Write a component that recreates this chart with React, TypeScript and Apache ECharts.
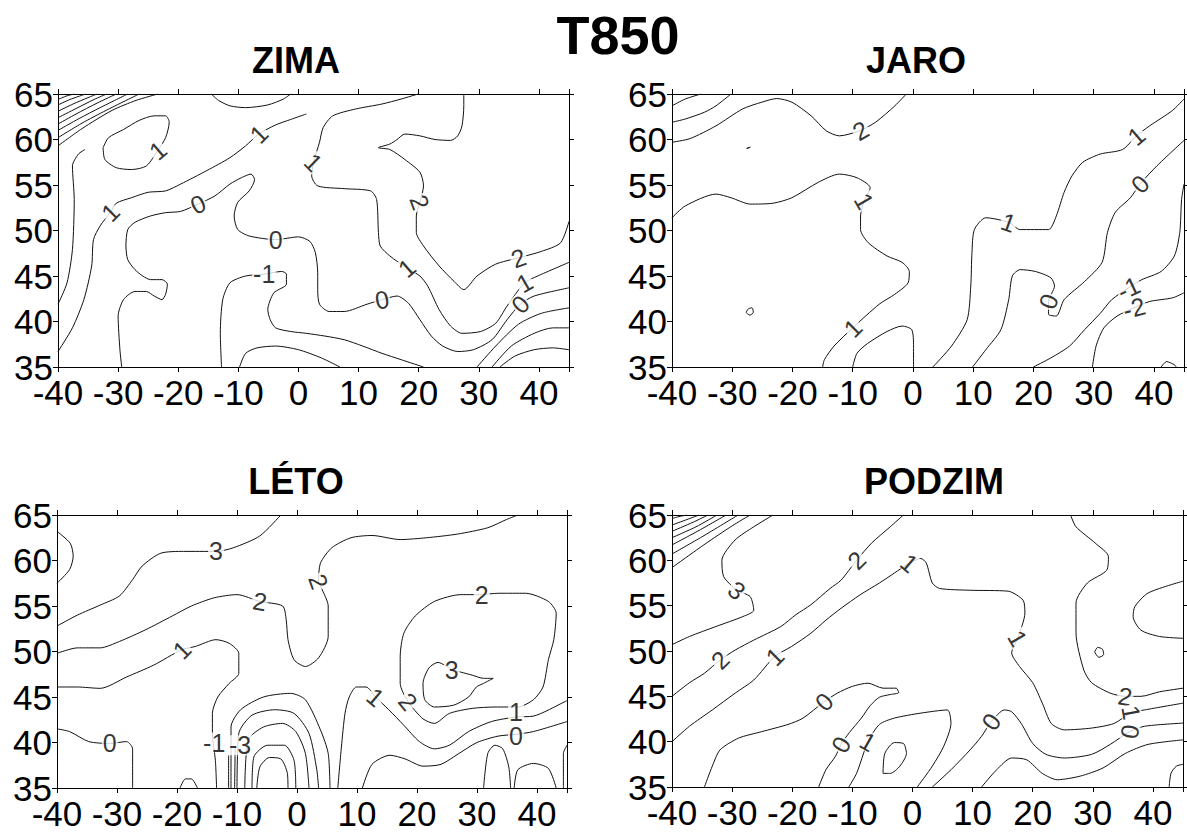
import React, { useEffect, useRef } from "react";
import * as echarts from "echarts";

type Pt = [number, number];
type Lbl = [number, number, string];

const mainTitle = "T850";
const panelTitles = ["ZIMA", "JARO", "LÉTO", "PODZIM"];
const lonTicks = [-40, -30, -20, -10, 0, 10, 20, 30, 40];
const latTicks = [35, 40, 45, 50, 55, 60, 65];

// ---------------- ZIMA ----------------
const zimaLines: Pt[][] = [
  [[-40, 64.4], [-38.5, 64.8], [-37.3, 65]],
  [[-40, 63.8], [-38, 64.4], [-35.4, 65]],
  [[-40, 63.1], [-37.5, 63.9], [-35, 64.6], [-33.5, 65]],
  [[-40, 62.4], [-37, 63.4], [-34, 64.4], [-31.9, 65]],
  [[-40, 61.7], [-37, 62.8], [-33.5, 64], [-30.3, 65]],
  [[-40, 61.0], [-36.5, 62.3], [-33, 63.5], [-28.4, 65]],
  [[-40, 60.2], [-36, 61.8], [-32, 63.2], [-26.5, 65]],
  [[-40, 59.3], [-36, 61.2], [-31, 63.2], [-27, 64.3], [-23.4, 65]],
  [[-40, 41.9], [-38.5, 44.25], [-37.6, 47.9], [-37.3, 53.4], [-37.6, 57.1], [-36.6, 58.4], [-35.5, 58.9]],
  [[-40, 36.7], [-37.6, 39.3], [-35.7, 42.4], [-34.4, 46.1], [-34.1, 49.0], [-33.0, 50.5], [-31.3, 52.0], [-30.3, 53.0], [-27.8, 53.6], [-25.0, 54.2], [-22.1, 54.35], [-19.6, 55.1], [-15.2, 56.6], [-11.4, 58.0], [-8.8, 59.3], [-6.6, 60.6], [-3.8, 61.6], [-1.3, 62.2], [1.3, 62.8]],
  [[-32.5, 59.1], [-32.2, 57.8], [-30.3, 56.9], [-27.8, 56.7], [-25.3, 57.1], [-23.4, 58.8], [-22.1, 60.2], [-21.5, 61.9], [-22.1, 62.6], [-24.0, 62.6], [-26.5, 62.1], [-29.1, 61.1], [-31.6, 60.2], [-32.5, 59.1]],
  [[-14.5, 65], [-13.3, 64.3], [-11.4, 63.7], [-8.8, 63.5], [-5.1, 63.8], [-2.5, 64.45], [-1.3, 65]],
  [[-29.4, 35], [-29.7, 36.9], [-30.0, 40.6], [-29.1, 42.4], [-27.2, 43.3], [-25.3, 43.3], [-24.0, 42.8], [-22.7, 42.4], [-22.1, 43.0], [-21.8, 44.1], [-22.7, 44.6], [-24.6, 44.6], [-25.9, 45.0], [-27.2, 45.7], [-28.4, 46.8], [-28.7, 48.3], [-28.4, 50.1], [-27.2, 50.9], [-24.6, 51.6], [-22.1, 51.96], [-19.6, 52.1], [-16.7, 52.9], [-13.9, 53.8], [-11.4, 55.1], [-9.5, 55.8], [-7.9, 56.2], [-7.3, 55.6], [-8.2, 54.35], [-10.1, 53.1], [-10.7, 51.6], [-10.1, 50.1], [-8.2, 49.4], [-3.8, 49.0], [0, 49.3], [1.9, 48.8], [2.8, 47.6], [3.2, 45.35], [3.2, 43.5], [3.5, 41.9], [5.1, 41.1], [7.6, 41.1], [11.4, 41.9], [13.9, 42.4], [16.4, 42.8], [18.3, 42.0], [20.2, 40.2], [22.1, 38.4], [24.0, 37.3], [26.5, 36.7], [29.1, 36.9], [32.2, 38.0], [34.7, 40.2], [36.9, 41.9], [39.2, 42.8], [45, 43.7]],
  [[19.9, 65], [17.1, 64.45], [13.9, 63.9], [9.5, 63.35], [5.7, 62.6], [4.1, 61.3], [3.5, 59.7], [2.5, 57.5], [2.2, 56.0], [3.2, 54.9], [7.6, 54.6], [12.0, 54.35], [13.0, 53.4], [13.3, 49.8], [13.6, 48.3], [15.2, 47.2], [18.0, 45.9], [20.2, 45.0], [21.5, 43.9], [23.4, 41.3], [25.3, 39.5], [27.2, 38.7], [30.3, 38.9], [32.8, 39.8], [34.7, 41.7], [37.6, 44.25], [39.8, 45.0], [45, 46.5]],
  [[27.5, 65], [27.5, 63.7], [27.2, 61.5], [26.5, 60.4], [25.3, 59.9], [22.7, 60.0], [20.2, 60.4], [17.7, 60.6], [16.4, 60.0], [15.2, 59.5], [13.3, 59.1], [15.2, 58.9], [17.7, 57.8], [20.2, 56.4], [20.8, 54.9], [20.2, 53.1], [19.6, 51.6], [19.6, 49.8], [20.8, 48.3], [23.4, 46.1], [25.9, 44.4], [27.5, 43.5], [29.7, 45.0], [32.8, 46.3], [36.6, 47.0], [40.4, 47.7], [43.6, 48.65], [45, 51.0]],
  [[-12.8, 35], [-13.0, 38.7], [-12.6, 42.4], [-11.4, 44.25], [-8.8, 45.0], [-5.7, 45.2], [-2.8, 45.5], [-2.0, 45.2], [-2.0, 44.1], [-4.1, 43.15], [-5.1, 41.3], [-4.7, 40.2], [-3.8, 39.3], [-1.3, 38.9], [1.3, 38.7], [4.4, 38.4], [7.6, 38.0], [10.7, 37.3], [13.9, 36.5], [17.1, 35.8], [20.8, 35]],
  [[-9.8, 35], [-8.8, 36.5], [-6.9, 37.1], [-3.8, 37.3], [0, 36.9], [3.8, 36.0], [6.9, 35]],
  [[29.7, 35], [32.8, 37.3], [36.6, 39.7], [40.4, 40.9], [45, 41.5]],
  [[32.2, 35], [35.4, 37.3], [39.2, 38.7], [42.3, 39.3], [45, 39.3]],
  [[33.5, 35], [36.0, 36.2], [39.2, 36.9], [42.3, 37.1], [45, 36.9]],
];
const zimaLabels: Lbl[] = [
  [-31.3, 52.0, "1"], [-16.7, 52.9, "0"], [-23.4, 58.8, "1"], [-6.6, 60.6, "1"], [2.5, 57.5, "1"],
  [20.2, 53.1, "2"], [-3.8, 49.0, "0"], [-5.7, 45.2, "-1"], [18.0, 45.9, "1"], [13.9, 42.4, "0"],
  [36.6, 47.0, "2"], [37.6, 44.25, "1"], [36.9, 41.9, "0"],
];
const zimaAngles = [45, 25, 40, 45, -45, -70, 0, 0, 40, 10, 20, 30, 45];

// ---------------- JARO ----------------
const jaroLines: Pt[][] = [
  [[-40, 63.7], [-37.8, 64.45], [-35.2, 65]],
  [[-40, 61.9], [-37.8, 62.25], [-34.6, 63.0], [-32.7, 63.7], [-30.2, 65]],
  [[-40, 59.7], [-37, 60.1], [-32.7, 61.5], [-28.3, 63.35], [-25.1, 64.1], [-22.6, 64.5], [-20.1, 64.1], [-16.9, 62.6], [-14.4, 60.96], [-12.2, 60.4], [-8.7, 61.0], [-6.2, 61.9], [-3.0, 63.7], [-1.1, 65]],
  [[-40, 51.4], [-37.8, 52.7], [-32.7, 54.0], [-30.2, 53.6], [-27.0, 52.9], [-23.2, 53.0], [-20.1, 53.6], [-15.7, 55.3], [-12.2, 56.2], [-9.3, 55.8], [-7.1, 54.7], [-8.1, 53.25], [-8.7, 51.6], [-8.7, 50.1], [-7.4, 48.65], [-4.3, 47.2], [-1.8, 46.5], [-0.6, 45.5], [-0.8, 44.25], [-3.0, 43.0], [-5.6, 41.9], [-10.0, 39.3], [-13.1, 37.3], [-14.7, 35.8], [-15.0, 35]],
  [[-10, 35], [-9.3, 36.5], [-7.5, 37.6], [-4.3, 38.9], [-1.8, 39.5], [-0.2, 39.1], [0.1, 37.3], [0.1, 35]],
  [[3.3, 35], [6.4, 37.3], [9.0, 40.2], [9.6, 43.9], [9.8, 47.6], [10.2, 50.1], [12.1, 51.4], [15.9, 50.9], [17.8, 50.1], [22.5, 50.1], [23.8, 51.6], [25.1, 54.2], [26.4, 56.0], [28.2, 57.5], [31.1, 58.4], [34.8, 58.9], [37.1, 60.4], [39.3, 61.5], [43.1, 63.2], [45, 64.45]],
  [[9.9, 35], [12.1, 36.9], [14.6, 39.1], [15.9, 42.4], [16.5, 45.0], [17.8, 45.7], [20.3, 45.5], [22.9, 44.8], [23.5, 43.9], [22.5, 42.2], [22.5, 40.8], [23.8, 40.6], [25.1, 42.4], [28.5, 44.4], [31.4, 46.5], [32.3, 49.8], [33.6, 52.0], [36.1, 53.6], [37.7, 55.1], [40.5, 57.1], [45, 59.9]],
  [[20, 35], [22.9, 36.0], [26, 37.3], [28.5, 39.1], [31.1, 40.9], [33, 42.4], [35.8, 43.7], [38, 44.6], [41.2, 45.5], [43.4, 47.2], [44.3, 49.8], [44.6, 53.4], [45, 55.1]],
  [[29.8, 35], [30.4, 37.3], [31.7, 39.3], [33.9, 40.6], [36.7, 41.5], [39.3, 42.2], [43.1, 42.6], [45, 43.15]],
  [[41.2, 35], [42.1, 35.6], [43.4, 35.25], [43.7, 35]],
  [[-27.7, 41.0], [-27.3, 41.4], [-26.7, 41.5], [-26.5, 41.0], [-27.1, 40.7], [-27.7, 41.0]],
  [[-27.6, 59.05], [-27.0, 59.15], [-27.6, 59.0]],
];
const jaroLabels: Lbl[] = [
  [-8.7, 61.0, "2"], [-8.1, 53.25, "1"], [-10.0, 39.3, "1"], [15.9, 50.9, "1"], [37.1, 60.4, "1"],
  [37.7, 55.1, "0"], [22.5, 42.2, "0"], [35.8, 43.7, "-1"], [36.7, 41.5, "-2"],
];
const jaroAngles = [30, -60, 45, -20, 40, 45, 70, 25, 15];

// ---------------- LÉTO ----------------
const letoLines: Pt[][] = [
  [[-40, 63.2], [-37.8, 61.9], [-37.3, 60.5], [-37.9, 59.0], [-40, 57.5]],
  [[-40, 52.8], [-36.6, 54.0], [-32.8, 55.1], [-29.6, 56.1], [-27.4, 57.9], [-25.8, 59.4], [-22.7, 60.8], [-18.9, 61.0], [-13.5, 61.0], [-10.6, 61.4], [-6.2, 62.7], [-2.7, 65]],
  [[-40, 49.8], [-36.6, 50.4], [-32.8, 50.4], [-29.6, 51.1], [-25.2, 52.4], [-20.8, 53.9], [-17.6, 55.0], [-13.8, 55.9], [-10.0, 56.25], [-6.2, 55.5], [-2.4, 55.0], [-1.8, 53.5], [-1.5, 51.3], [-0.5, 49.1], [1.4, 48.35], [3.6, 49.3], [5.2, 51.65], [5.2, 55.0], [4.2, 56.8], [3.6, 57.7], [3.9, 59.7], [5.8, 61.4], [9.0, 62.5], [12.5, 62.75], [17.2, 62.3], [21.6, 62.5], [26.7, 62.9], [31.8, 63.6], [34.9, 64.5], [36.8, 65]],
  [[-40, 46.1], [-36.6, 46.1], [-32.8, 45.95], [-28.4, 47.2], [-23.9, 48.5], [-19.2, 50.2], [-16.96, 50.55], [-13.5, 51.3], [-11.3, 50.9], [-9.7, 49.8], [-9.7, 47.6], [-11.3, 46.5], [-13.2, 45.0], [-14.1, 43.2], [-14.1, 41.0], [-13.6, 38], [-13.4, 35]],
  [[-40, 41.5], [-37.9, 41.2], [-34.7, 40.1], [-31.2, 39.9], [-28.4, 40.1], [-27.4, 39.3], [-27.4, 35]],
  [[-19.5, 35], [-18.6, 36.0], [-17.6, 36.0], [-16.6, 35]],
  [[-11.4, 35], [-11.4, 38.6]],
  [[-10.4, 35], [-10.3, 39.5]],
  [[-11, 35], [-11, 41.7], [-9.4, 43.6], [-5.6, 45.0], [-1.1, 45.4], [1.4, 44.7], [3.9, 41.4], [5.2, 38.8], [5.5, 35]],
  [[-10, 35], [-9.7, 41.0], [-7.5, 43.0], [-3.7, 43.6], [-0.5, 43.2], [2.0, 41.0], [3.3, 37.0], [3.6, 35]],
  [[-8.7, 35], [-8.1, 40.3], [-5.6, 41.7], [-2.4, 42.1], [-0.2, 41.2], [1.4, 38.8], [2.0, 35]],
  [[-7.5, 35], [-7.2, 38.4], [-4.9, 39.7], [-2.1, 39.7], [-0.5, 38.05], [-0.2, 35]],
  [[-6.7, 35], [-6.2, 37.3], [-4.6, 38.35], [-2.7, 38.2], [-1.6, 36.6], [-1.5, 35]],
  [[30.8, 56.25], [33.7, 56.4], [38.1, 56.4], [41.9, 55.5], [43.2, 54.2], [42.8, 51.3], [41.9, 49.1], [41.0, 46.1], [39.4, 44.7], [36.8, 43.9], [33.0, 43.9], [29.2, 43.75], [25.4, 43.2], [22.9, 42.1], [21.0, 42.6], [18.5, 44.5], [17.2, 46.5], [17.2, 49.45], [17.8, 52.0], [19.7, 53.9], [22.9, 55.5], [27.3, 56.25], [30.8, 56.25]],
  [[25.8, 48.0], [29.2, 47.4], [31.1, 47.05], [32.7, 47.05], [31.1, 46.5], [29.9, 46.1], [28.6, 45.0], [26.1, 44.1], [22.9, 43.9], [21.3, 44.7], [21.0, 46.5], [22.0, 48.2], [23.5, 48.8], [25.8, 48.0]],
  [[6.8, 35], [7.4, 39.5], [8.0, 43.2], [8.7, 45.0], [9.9, 46.1], [11.5, 46.1], [13.1, 45.0], [15.3, 43.6], [17.8, 41.9], [20.4, 40.1], [22.9, 39.3], [25.4, 39.7], [28.6, 41.2], [32.4, 42.3], [36.5, 42.8], [39.4, 42.9], [44.7, 44.5], [45, 44.6]],
  [[10.9, 35], [12.5, 37.6], [15.5, 38.6], [18, 38.2], [21, 37.4], [24, 37.6], [27, 38.8], [30, 40.0], [33.5, 40.7], [36.5, 40.9], [39.4, 41.2], [45, 42.3]],
  [[31.1, 35], [31.8, 38.8], [33.0, 39.7], [34.3, 39.3], [35.3, 37.3], [35.6, 35]],
  [[36.2, 35], [36.8, 37.0], [39.4, 37.7], [41.9, 37.15], [43.2, 35]],
  [[44.4, 35], [44.4, 38.8], [45, 39.7]],
];
const letoLabels: Lbl[] = [
  [-13.5, 61.0, "3"], [-6.2, 55.5, "2"], [-19.2, 50.2, "1"], [-31.2, 39.9, "0"], [3.6, 57.7, "2"],
  [30.8, 56.25, "2"], [25.8, 48.0, "3"], [13.1, 45.0, "1"], [18.5, 44.5, "2"], [36.5, 43.3, "1"],
  [36.5, 40.7, "0"], [-13.8, 40.0, "-1"], [-9.5, 39.7, "-3"],
];
const letoAngles = [0, -10, 45, 0, -70, 0, 0, -40, -50, 0, 0, 0, 0];

// ---------------- PODZIM ----------------
const podzimLines: Pt[][] = [
  [[-40, 64.6], [-39, 64.8], [-37.5, 65]],
  [[-40, 63.9], [-37.5, 64.5], [-35.5, 65]],
  [[-40, 63.2], [-36.5, 64.2], [-34, 65]],
  [[-40, 62.5], [-36, 63.7], [-32.5, 65]],
  [[-40, 61.7], [-35.5, 63.3], [-31, 65]],
  [[-40, 60.7], [-35, 62.6], [-29, 65]],
  [[-40, 59.2], [-34.5, 61.8], [-30, 63.8], [-27, 65]],
  [[-23.2, 65], [-26.4, 63.7], [-29.5, 62.25], [-31.7, 60.0], [-31.4, 58.2], [-29.2, 56.7], [-27.0, 56.0], [-26.4, 54.5], [-28.2, 53.8], [-32.7, 52.7], [-37.1, 51.6], [-40, 50.7]],
  [[-40, 45.0], [-37.1, 46.5], [-34.6, 47.55], [-32.0, 49.0], [-29.5, 50.1], [-26.4, 51.2], [-21.9, 52.7], [-19.4, 54.0], [-16.9, 55.1], [-13.7, 56.9], [-11.9, 57.8], [-9.3, 60.0], [-6.8, 61.9], [-3.7, 63.7], [-1.5, 65]],
  [[-40, 40.0], [-37.1, 41.7], [-33.3, 43.5], [-29.5, 45.35], [-26.4, 46.8], [-22.9, 49.4], [-20.1, 50.5], [-16.9, 51.96], [-14.4, 53.4], [-11.9, 54.7], [-8.7, 56.2], [-5.5, 57.5], [-3.0, 58.6], [-0.5, 59.7], [1.4, 60.2], [2.3, 59.7], [3.3, 57.5], [4.5, 56.9], [9.6, 56.7], [15.9, 56.6], [18.4, 55.6], [18.7, 54.2], [17.5, 51.4], [16.5, 49.8], [17.8, 48.3], [20.0, 46.5], [21.6, 44.25], [23.1, 42.0], [25.3, 41.3], [29.8, 41.5], [33.5, 42.0], [36.4, 43.2], [38.6, 43.5], [45, 44.25]],
  [[26.3, 65], [27.2, 63.7], [30.4, 61.9], [32.6, 60.4], [32.3, 58.9], [29.1, 57.5], [27.2, 55.3], [27.2, 52.0], [28.5, 47.9], [29.8, 46.5], [32.9, 45.35], [35.4, 45.0], [38.0, 45.0], [41.1, 45.5], [45, 45.9]],
  [[3.3, 35], [6.4, 36.9], [9.6, 39.1], [11.5, 40.6], [13.1, 42.2], [15.3, 43.5], [16.5, 43.3], [18.1, 42.0], [20.0, 39.8], [22.2, 38.6], [25.3, 38.2], [29.8, 38.6], [32.9, 39.7], [36.1, 41.1], [38.6, 41.7], [45, 42.05]],
  [[11.5, 35], [14.0, 36.9], [16.5, 38.2], [19.0, 38.0], [21.6, 36.5], [24.1, 35.8], [27.9, 36.2], [31.7, 37.1], [35.4, 38.7], [39.2, 39.7], [45, 40.2]],
  [[42.7, 35], [43.0, 36.5], [43.9, 37.3], [45, 37.5]],
  [[45, 57.7], [39.2, 56.4], [37.0, 54.9], [36.7, 53.8], [38.0, 52.3], [41.1, 51.6], [45, 51.4]],
  [[30.3, 49.9], [30.8, 50.4], [31.6, 50.2], [31.8, 49.6], [31.0, 49.3], [30.3, 49.9]],
  [[-34.6, 35], [-33.3, 37.3], [-32.0, 39.1], [-28.9, 40.4], [-25.1, 41.1], [-20.7, 41.9], [-18.2, 42.6], [-14.7, 44.4], [-12.5, 45.35], [-10.0, 46.1], [-7.4, 46.45], [-4.9, 45.9], [-2.7, 45.9], [-2.3, 45.4], [-3.7, 45.2], [-5.5, 44.9], [-7.0, 44.0], [-8.5, 42.6], [-10.5, 41.0], [-11.9, 39.7], [-12.8, 38.4], [-14.4, 36.9], [-15.6, 35]],
  [[-10.6, 35], [-9.3, 36.5], [-7.4, 40.0], [-5.5, 41.9], [-3.0, 42.6], [1.4, 43.15], [5.8, 43.5], [6.4, 42.0], [5.2, 39.5], [3.3, 37.3], [0.8, 35]],
  [[-4.9, 36.5], [-4.6, 38.7], [-3.0, 39.9], [-1.5, 39.8], [-1.0, 38.7], [-2.1, 37.3], [-3.7, 36.5], [-4.9, 36.5]],
];
const podzimLabels: Lbl[] = [
  [-32.0, 49.0, "2"], [-22.9, 49.4, "1"], [-29.2, 56.7, "3"], [-9.3, 60.0, "2"], [-0.5, 59.7, "1"],
  [17.5, 51.4, "1"], [-14.7, 44.4, "0"], [-11.9, 39.7, "0"], [-7.4, 40.0, "1"], [13.1, 42.2, "0"],
  [35.4, 45.0, "2"], [36.4, 43.2, "1"], [36.1, 41.1, "0"],
];
const podzimAngles = [45, 45, -40, 45, -40, -60, 45, 60, -30, 55, -10, -80, 80];

const panelLines = [zimaLines, jaroLines, letoLines, podzimLines];
const panelLabels = [zimaLabels, jaroLabels, letoLabels, podzimLabels];
const panelAngles = [zimaAngles, jaroAngles, letoAngles, podzimAngles];

const FONT = "'Liberation Sans', Arial, sans-serif";

const grids = [
  { left: 58, top: 94, width: 511, height: 273 },
  { left: 672, top: 94, width: 512, height: 273 },
  { left: 57, top: 515, width: 510, height: 273 },
  { left: 672, top: 515, width: 511, height: 272 },
];
const titlePos = [
  [296, 60],
  [916, 60],
  [296, 481],
  [934, 481],
];

export default function App() {
  const ref = useRef<HTMLDivElement>(null);
  useEffect(() => {
    if (!ref.current) return;
    const chart = echarts.init(ref.current, undefined, { renderer: "svg" });
    const lineCol = "#000";
    const xAxes: any[] = [];
    const yAxes: any[] = [];
    const series: any[] = [];
    grids.forEach((g, i) => {
      const common = {
        type: "value",
        gridIndex: i,
        splitLine: { show: false },
        axisLine: { show: true, onZero: false, lineStyle: { color: lineCol, width: 1 } },
        axisTick: { show: true, length: 5, lineStyle: { color: lineCol, width: 1 } },
      };
      xAxes.push({
        ...common,
        position: "bottom",
        min: -40,
        max: 45,
        interval: 10,
        axisLabel: {
          show: true,
          margin: 13,
          fontFamily: FONT,
          fontSize: 35,
          lineHeight: 24,
          color: "#000",
          formatter: (v: number) => (lonTicks.includes(v) ? String(v) : ""),
        },
      });
      xAxes.push({ ...common, position: "top", min: -40, max: 45, interval: 10, axisLabel: { show: false } });
      yAxes.push({
        ...common,
        position: "left",
        min: 35,
        max: 65,
        interval: 5,
        axisLabel: {
          show: true,
          margin: 5,
          fontFamily: FONT,
          fontSize: 35,
          lineHeight: 24,
          color: "#000",
          formatter: (v: number) => (latTicks.includes(v) ? String(v) : ""),
        },
      });
      yAxes.push({ ...common, position: "right", min: 35, max: 65, interval: 5, axisLabel: { show: false } });

      panelLines[i].forEach((ln) => {
        series.push({
          type: "line",
          xAxisIndex: 2 * i,
          yAxisIndex: 2 * i,
          data: ln,
          showSymbol: false,
          symbol: "none",
          smooth: 0.25,
          lineStyle: { color: "#111", width: 1 },
          silent: true,
          z: 2,
        });
      });
      series.push({
        type: "scatter",
        xAxisIndex: 2 * i,
        yAxisIndex: 2 * i,
        symbolSize: 1,
        itemStyle: { color: "rgba(0,0,0,0)" },
        silent: true,
        z: 5,
        data: panelLabels[i].map((l, k) => ({
          value: [l[0], l[1]],
          name: l[2],
          label: { rotate: panelAngles[i][k] || 0 },
        })),
        label: {
          show: true,
          position: "inside",
          formatter: (p: any) => p.name,
          fontFamily: FONT,
          fontSize: 25,
          lineHeight: 20,
          color: "#000",
          backgroundColor: "#fff",
          padding: [0, 1],
        },
      });
    });

    const graphic: any[] = [
      {
        type: "text",
        x: 618,
        y: 35,
        style: { text: mainTitle, font: `bold 54px ${FONT}`, fill: "#000", textAlign: "center", textVerticalAlign: "middle" },
      },
    ];
    panelTitles.forEach((t, i) => {
      graphic.push({
        type: "text",
        x: titlePos[i][0],
        y: titlePos[i][1],
        style: { text: t, font: `bold 36px ${FONT}`, fill: "#000", textAlign: "center", textVerticalAlign: "middle" },
      });
    });

    chart.setOption({
      animation: false,
      backgroundColor: "#fff",
      grid: grids.map((g) => ({ ...g, containLabel: false })),
      xAxis: xAxes,
      yAxis: yAxes,
      series,
      graphic,
    });
    return () => chart.dispose();
  }, []);
  return <div ref={ref} style={{ position: "absolute", left: 0, top: 0, width: 1187, height: 832, background: "#fff" }} />;
}
